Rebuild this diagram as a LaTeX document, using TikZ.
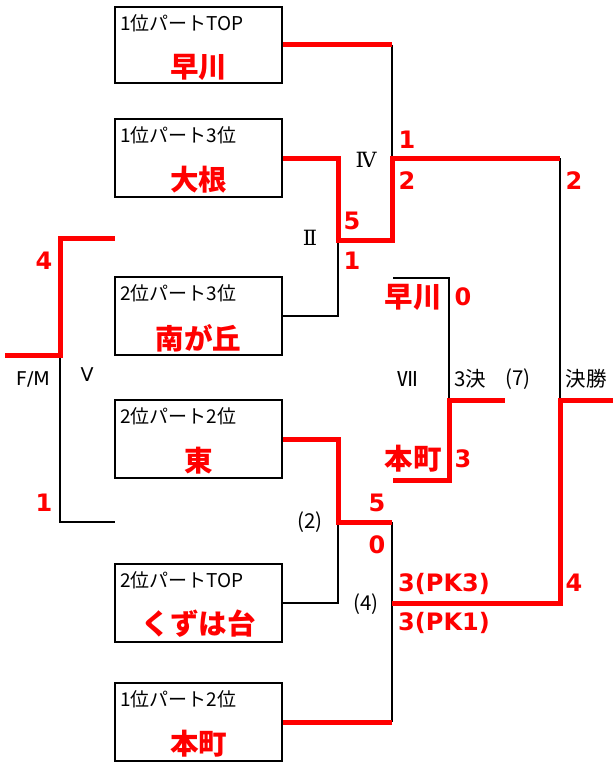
\documentclass[tikz,border=0pt]{standalone}
\usepackage{fontspec}
\setmainfont{Noto Sans CJK JP}
\newfontfamily\scorefont{DejaVu Sans}
\newfontfamily\romfont{DejaVu Serif}
\definecolor{wred}{RGB}{255,0,0}
\tikzset{
  team/.style={draw=black, line width=2.4pt, minimum width=167pt, minimum height=78pt, inner sep=0pt},
  blk/.style={draw=black, line width=2pt},
  win/.style={draw=wred, line width=5pt, line join=miter},
  seed/.style={font=\fontsize{19}{19}\selectfont, anchor=west, inner sep=0pt},
  tname/.style={font=\fontsize{28.5}{28.5}\selectfont\bfseries, text=wred, inner sep=0pt},
  score/.style={font=\scorefont\fontsize{24}{24}\selectfont\bfseries, text=wred, inner sep=0pt},
  lbl/.style={font=\fontsize{20.5}{20.5}\selectfont, inner sep=0pt},
  lblr/.style={font=\romfont\fontsize{21}{21}\selectfont, inner sep=0pt},
  lbls/.style={font=\scorefont\fontsize{19}{19}\selectfont, inner sep=0pt},
}
\begin{document}
\begin{tikzpicture}[x=1pt,y=-1pt]
\useasboundingbox (0,0) rectangle (613,765);
% team boxes
\node[team, minimum height=76pt] (b1) at (198.5,45) {};
\node[team] (b2) at (198.5,158) {};
\node[team] (b3) at (198.5,316) {};
\node[team] (b4) at (198.5,439) {};
\node[team] (b5) at (198.5,603) {};
\node[team] (b6) at (198.5,722) {};
% seeds
\node[seed] (b1s) at (120,23) {1位パートTOP};
\node[seed] (b2s) at (120,135) {1位パート3位};
\node[seed] (b3s) at (120,293) {2位パート3位};
\node[seed] (b4s) at (120,416) {2位パート2位};
\node[seed] (b5s) at (120,580) {2位パートTOP};
\node[seed] (b6s) at (120,699) {1位パート2位};
% names
\node[tname] (b1n) at (198.5,67) {早川};
\node[tname] (b2n) at (198.5,180) {大根};
\node[tname] (b3n) at (198.5,338) {南が丘};
\node[tname] (b4n) at (198.5,461) {東};
\node[tname] (b5n) at (198.5,624) {くずは台};
\node[tname] (b6n) at (198.5,744) {本町};
% coordinates
\coordinate (c4top) at (392,45);
\coordinate (c4mid) at (392,158);
\coordinate (c2top) at (338,158);
\coordinate (c2mid) at (338,240);
\coordinate (c2bot) at (338,316);
\coordinate (c4bot) at (392,240);
\coordinate (fTop) at (560,158);
\coordinate (fMid) at (560,400);
\coordinate (fBot) at (560,603);
\coordinate (fOut) at (613,400);
\coordinate (q2top) at (338,439);
\coordinate (q2mid) at (338,522);
\coordinate (q2bot) at (338,603);
\coordinate (q4top) at (392,522);
\coordinate (q4mid) at (392,603);
\coordinate (q4bot) at (392,722);
\coordinate (t1) at (393,278);
\coordinate (t1c) at (449,278);
\coordinate (tm) at (449,400);
\coordinate (t2) at (393,480);
\coordinate (t2c) at (449,480);
\coordinate (tOut) at (505,400);
\coordinate (fmOut) at (5,355);
\coordinate (fmMid) at (60,355);
\coordinate (fmTopc) at (60,238);
\coordinate (fmTop) at (115,238);
\coordinate (fmBotc) at (60,522);
\coordinate (fmBot) at (115,522);
% black lines
\draw[blk] (b3.east) -- (c2bot) -- (c2mid);
\draw[blk] (c4top) -- (c4mid);
\draw[blk] (fTop) -- (fMid);
\draw[blk] (b5.east) -- (q2bot) -- (q2mid);
\draw[blk] (q4top) -- (q4bot);
\draw[blk] (t1) -- (t1c) -- (tm);
\draw[blk] (fmMid) -- (fmBotc) -- (fmBot);
% red winner lines
\draw[win] (b1.east) -- (c4top);
\draw[win] (b2.east) -- (c2top) -- (c2mid) -- (c4bot) -- (c4mid) -- (fTop);
\draw[win] (fOut) -- (fMid) -- (fBot) -- (q4mid);
\draw[win] (b4.east) -- (q2top) -- (q2mid) -- (q4top);
\draw[win] (b6.east) -- (q4bot);
\draw[win] (t2) -- (t2c) -- (tm) -- (tOut);
\draw[win] (fmOut) -- (fmMid) -- (fmTopc) -- (fmTop);
% scores
\node[score] (s1) at (407,140) {1};
\node[score] (s2) at (407,181) {2};
\node[score] (s3) at (352,221) {5};
\node[score] (s4) at (352,261) {1};
\node[score] (s5) at (574,181) {2};
\node[score] (s6) at (574,583) {4};
\node[score] (s7) at (377,503) {5};
\node[score] (s8) at (377,545) {0};
\node[score] (s9) at (444,584) {3(PK3)};
\node[score] (s10) at (444,623) {3(PK1)};
\node[score] (s11) at (463,297) {0};
\node[score] (s12) at (463,459) {3};
\node[score] (s13) at (44,261) {4};
\node[score] (s14) at (44,503) {1};
\node[tname] (n3a) at (413,297) {早川};
\node[tname] (n3b) at (413,459) {本町};
% labels
\node[lblr] (l4) at (366,160) {Ⅳ};
\node[lblr] (l2) at (310,238) {Ⅱ};
\node[lbl] (l7) at (408,379) {Ⅶ};
\node[lbl] (l3k) at (470,379) {3決};
\node[lbl] (lp7) at (518,379) {(7)};
\node[lbl] (lfin) at (586,379) {決勝};
\node[lbls] (lfm) at (33,379) {F/M};
\node[lbls] (lv) at (87,375) {V};
\node[lbl] (lp2) at (310,522) {(2)};
\node[lbl] (lp4) at (366,604) {(4)};
\end{tikzpicture}
\end{document}
